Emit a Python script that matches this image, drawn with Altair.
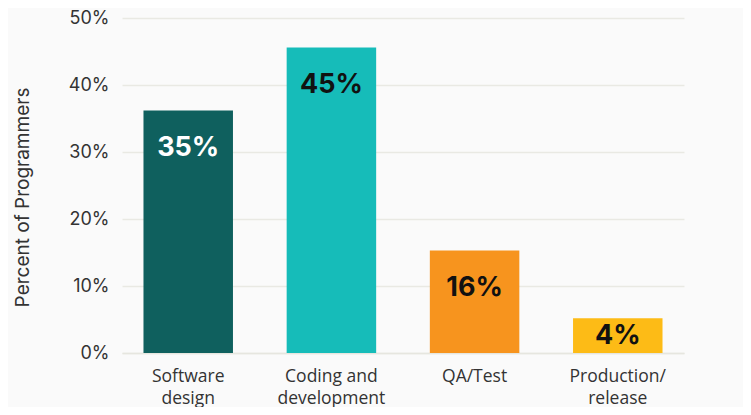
import altair as alt
import pandas as pd

categories = ["Software design", "Coding and development", "QA/Test", "Production/release"]
axis_labels = ["Software|design", "Coding and|development", "QA/Test", "Production/|release"]
values = [36.2, 45.6, 15.3, 5.2]
labels = ["35%", "45%", "16%", "4%"]
colors = ["#0f605e", "#16bcb9", "#f7941e", "#fdbb16"]
label_colors = ["#ffffff", "#111111", "#111111", "#111111"]

df = pd.DataFrame({
    "cat": axis_labels,
    "value": values,
    "label": labels,
    "color": colors,
    "lcolor": label_colors,
})

x = alt.X("cat:N", sort=axis_labels, title=None,
          scale=alt.Scale(paddingInner=0.375, paddingOuter=0.15),
          axis=alt.Axis(labelAngle=0, labelExpr="split(datum.label, '|')",
                        labelFont="Open Sans", labelFontSize=17.5, labelColor="#333333",
                        labelLineHeight=22, labelPadding=14, ticks=False,
                        domainColor="#e6e6df", domainWidth=1.5))
y = alt.Y("value:Q", title="Percent of Programmers",
          scale=alt.Scale(domain=[0, 50]),
          axis=alt.Axis(values=[0, 10, 20, 30, 40, 50], labelExpr="datum.value + '%'",
                        labelFont="Inter", labelFontSize=18, labelColor="#333333",
                        labelPadding=13, ticks=False, domain=False,
                        gridColor="#e9e9e3", gridWidth=1.5,
                        titleFont="Inter", titleFontSize=19, titleFontWeight="normal",
                        titleColor="#333333", titlePadding=36, titleY=179))

base = alt.Chart(df)
bars = base.mark_bar().encode(x=x, y=y, color=alt.Color("color:N", scale=None))
text = base.transform_calculate(
    lpos="max(datum.value - 5.6, datum.value / 2)"
).mark_text(font="Inter", fontSize=27, fontWeight=700, baseline="middle").encode(
    x=alt.X("cat:N", sort=axis_labels),
    y=alt.Y("lpos:Q"),
    text="label:N",
    color=alt.Color("lcolor:N", scale=None),
)

chart = (bars + text).properties(
    width=562, height=335, background="#fafafa",
    autosize=alt.AutoSizeParams(type="none"),
    padding={"left": 114, "top": 10, "right": 59, "bottom": 54},
).configure_view(stroke=None)

chart.save("out.html", embed_options={"renderer": "svg", "actions": False})
